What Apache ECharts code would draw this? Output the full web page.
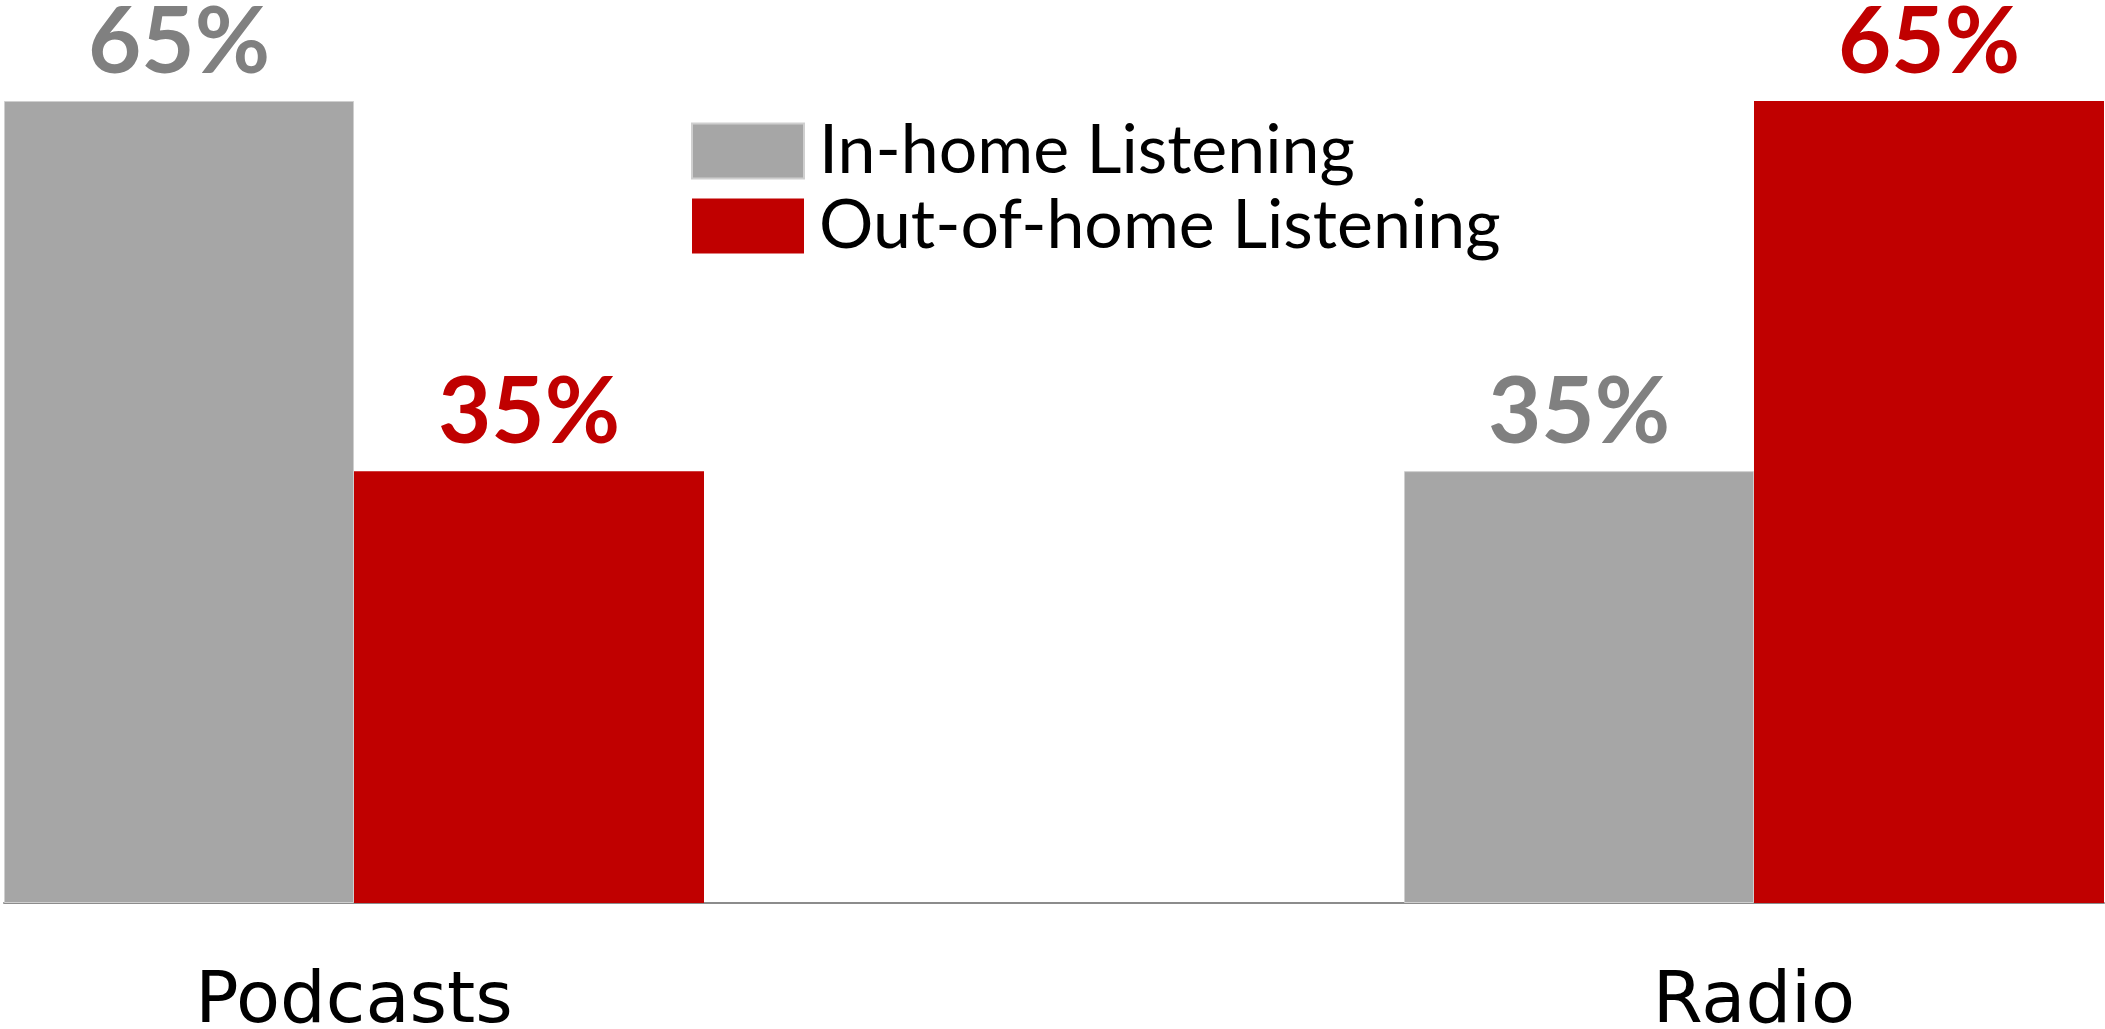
<!DOCTYPE html>
<html>
<head>
<meta charset="utf-8">
<title>Podcasts vs Radio listening location</title>
<script src="https://cdn.jsdelivr.net/npm/echarts@6/dist/echarts.min.js"></script>
<style>
  html, body { margin: 0; padding: 0; background: #ffffff; }
  #chart { width: 2105px; height: 1029px; }
</style>
</head>
<body>
<div id="chart"></div>
<script>
// Share of listening by location, per medium (%)
const categories = ['Podcasts', 'Radio'];
const seriesNames = ['In-home Listening', 'Out-of-home Listening'];
const inHome = [65, 35];
const outOfHome = [35, 65];

// The two media groups sit at the outer thirds of the plot, with an empty
// slot between them.
const axisCategories = [categories[0], '', categories[1]];
const withSpacer = (vals) => [vals[0], null, vals[1]];

const FONT = 'Lato';
const GRAY = '#a6a6a6';
const RED = '#c00000';

const chart = echarts.init(document.getElementById('chart'));

function valueLabel(color) {
  return {
    show: true,
    position: 'top',
    distance: 12,
    formatter: '{c}%',
    color: color,
    fontFamily: FONT,
    fontWeight: 'bold',
    fontSize: 92,
    lineHeight: 92
  };
}

chart.setOption({
  animation: false,
  backgroundColor: '#ffffff',
  legend: {
    orient: 'vertical',
    left: 691,
    top: 117,
    padding: 0,
    itemWidth: 112,
    itemHeight: 55,
    itemGap: 7,
    icon: 'rect',
    data: seriesNames,
    textStyle: {
      fontFamily: FONT,
      fontSize: 68,
      lineHeight: 55,
      color: '#000000',
      padding: [0, 0, 0, 10]
    }
  },
  grid: {
    left: 4,
    right: 1,
    top: 101,
    bottom: 126,
    containLabel: false,
    outerBoundsMode: 'none'
  },
  xAxis: {
    type: 'category',
    data: axisCategories,
    axisLine: { show: true, lineStyle: { color: '#8c8c8c', width: 2 } },
    axisTick: { show: false },
    axisLabel: {
      margin: 64,
      interval: 0,
      fontFamily: 'DejaVu Sans',
      fontSize: 72,
      lineHeight: 72,
      color: '#000000'
    }
  },
  yAxis: {
    type: 'value',
    min: 0,
    max: 65,
    show: false,
    splitLine: { show: false }
  },
  series: [
    {
      name: seriesNames[0],
      type: 'bar',
      data: withSpacer(inHome),
      barGap: '0%',
      barCategoryGap: '0%',
      itemStyle: { color: GRAY, borderColor: '#cfcfcf', borderWidth: 1 },
      label: valueLabel('#808080')
    },
    {
      name: seriesNames[1],
      type: 'bar',
      data: withSpacer(outOfHome),
      barGap: '0%',
      barCategoryGap: '0%',
      itemStyle: { color: RED },
      label: valueLabel(RED)
    }
  ]
});
</script>
</body>
</html>
